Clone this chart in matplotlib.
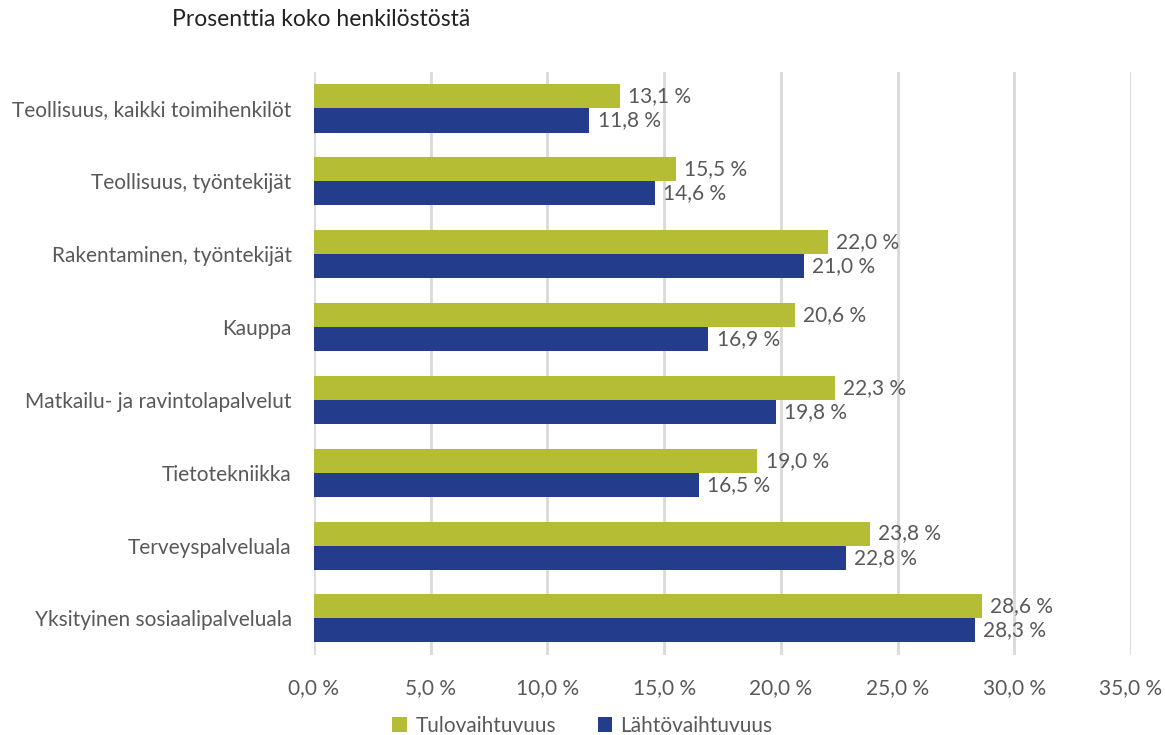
import matplotlib.pyplot as plt
import numpy as np

plt.rcParams['font.family'] = ['Lato', 'DejaVu Sans']

categories = ["Teollisuus, kaikki toimihenkilöt", "Teollisuus, työntekijät",
              "Rakentaminen, työntekijät", "Kauppa", "Matkailu- ja ravintolapalvelut",
              "Tietotekniikka", "Terveyspalveluala", "Yksityinen sosiaalipalveluala"]
tulo = [13.1, 15.5, 22.0, 20.6, 22.3, 19.0, 23.8, 28.6]
lahto = [11.8, 14.6, 21.0, 16.9, 19.8, 16.5, 22.8, 28.3]
ticks = [0, 5, 10, 15, 20, 25, 30, 35]

green = "#B5BD35"
blue = "#233C8C"
gray = "#595959"

fig = plt.figure(figsize=(11.65, 7.35), dpi=100)
ax = fig.add_axes([0.2695, 0.109, 0.7013, 0.793])

y = np.arange(len(categories))
h = 0.33
b1 = ax.barh(y - h / 2, tulo, height=h, color=green, label="Tulovaihtuvuus", zorder=3)
b2 = ax.barh(y + h / 2, lahto, height=h, color=blue, label="Lähtövaihtuvuus", zorder=3)

def fmt(v):
    return ("%.1f %%" % v).replace(".", ",")

for bars, vals in ((b1, tulo), (b2, lahto)):
    for bar, v in zip(bars, vals):
        ax.text(v + 0.35, bar.get_y() + bar.get_height() / 2, fmt(v),
                va="center", ha="left", fontsize=15, color=gray)

ax.set_ylim(len(categories) - 0.5, -0.5)
ax.set_xlim(0, 35)
ax.set_yticks(y)
ax.set_yticklabels(categories, fontsize=15, color=gray)
ax.set_xticks(ticks)
ax.set_xticklabels([fmt(t) for t in ticks], fontsize=15, color=gray)
ax.tick_params(axis="y", length=0, pad=16)
ax.tick_params(axis="x", length=0, pad=17)
ax.grid(axis="x", color="#D9D9D9", linewidth=2, zorder=0)
for s in ax.spines.values():
    s.set_visible(False)

fig.text(172 / 1165, 1 - 20 / 735, "Prosenttia koko henkilöstöstä", fontsize=16.5,
         color="#222222", va="center", ha="left")

fig.legend(loc="center", bbox_to_anchor=(0.5, 1 - 726 / 735), ncol=2, frameon=False,
           fontsize=15, handlelength=0.7, handleheight=0.7, columnspacing=2.0,
           labelcolor=gray, handletextpad=0.4)

fig.savefig("out.png", dpi=100)
